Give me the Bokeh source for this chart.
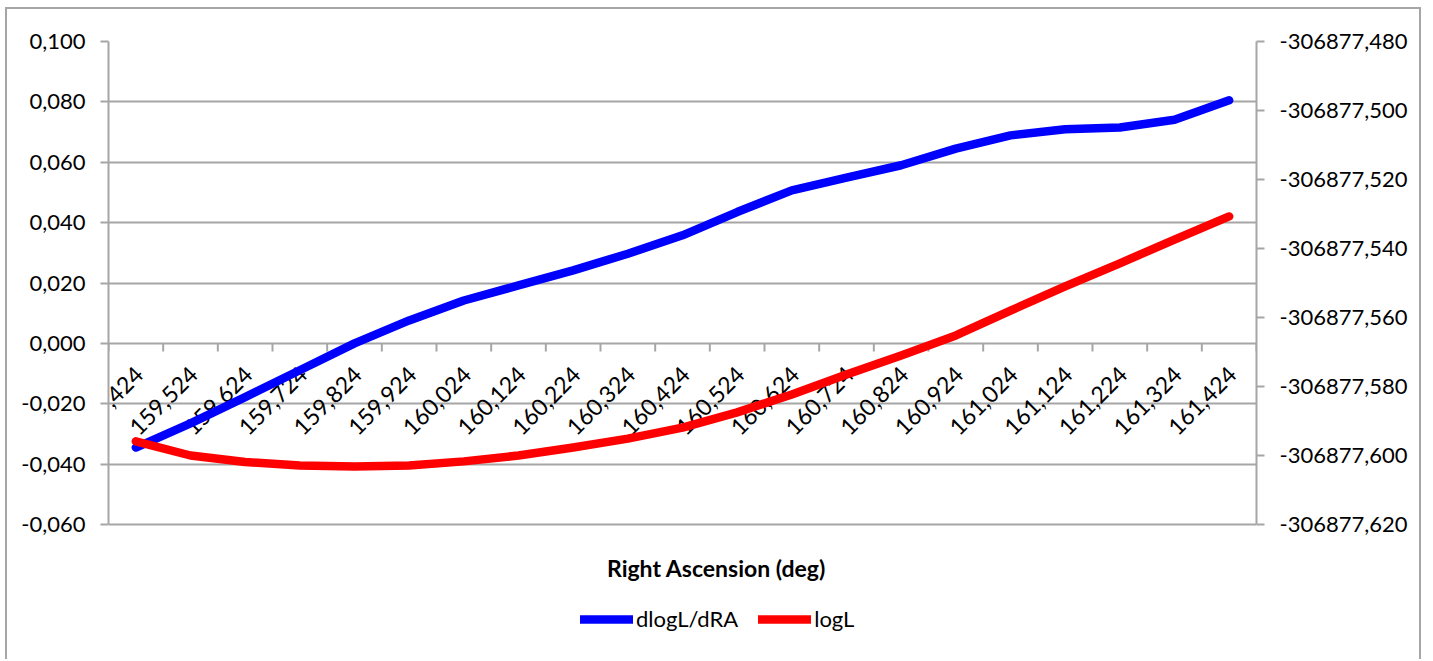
import math
from bokeh.plotting import figure
from bokeh.models import (Range1d, FactorRange, LinearAxis, FixedTicker, CustomJSTickFormatter,
                          ColumnDataSource, LabelSet, Label, Legend, LegendItem)
from bokeh.core.properties import value
from bokeh.transform import dodge
from bokeh.embed import file_html
from bokeh.resources import INLINE

# ---------------- data ----------------
ra_labels = ["159,424", "159,524", "159,624", "159,724", "159,824", "159,924", "160,024",
             "160,124", "160,224", "160,324", "160,424", "160,524", "160,624", "160,724",
             "160,824", "160,924", "161,024", "161,124", "161,224", "161,324", "161,424"]

dlogl_dra = [-0.0345, -0.0265, -0.0178, -0.0089, 0.0000, 0.0076, 0.0142, 0.0192, 0.0242,
             0.0297, 0.0358, 0.0435, 0.0507, 0.0549, 0.0590, 0.0645, 0.0689, 0.0709,
             0.0715, 0.0741, 0.0805]

logl = [-306877.5959, -306877.6000, -306877.6019, -306877.6029, -306877.6032, -306877.6029,
        -306877.6017, -306877.6000, -306877.5977, -306877.5951, -306877.5919, -306877.5875,
        -306877.5823, -306877.5765, -306877.5710, -306877.5652, -306877.5580, -306877.5510,
        -306877.5443, -306877.5374, -306877.5307]

left_ticks = [-0.06, -0.04, -0.02, 0.0, 0.02, 0.04, 0.06, 0.08, 0.10]
right_ticks = [-306877.62, -306877.60, -306877.58, -306877.56, -306877.54, -306877.52,
               -306877.50, -306877.48]

series_names = ["dlogL/dRA", "logL"]
x_title = "Right Ascension (deg)"

# ---------------- layout / styles ----------------
FONT = "Lato"
GRAY = "#a6a6a6"
OFF_X, OFF_Y = 7, 9                 # canvas origin in the page (margin + css border)
CW, CH = 1416, 652                  # canvas size
PL, PR, PT, PB = 108, 1256, 41, 524  # value-area edges in page pixels
frame_h = OFF_Y + CH - PT            # frame runs down to the canvas bottom
ext = (frame_h - (PB - PT)) / (PB - PT)   # extra range below the value axes (fraction)

l_lo, l_hi = left_ticks[0], left_ticks[-1]
r_lo, r_hi = right_ticks[0], right_ticks[-1]

p = figure(width=CW, height=CH, output_backend="svg", toolbar_location=None,
           x_range=FactorRange(*ra_labels, range_padding=0),
           y_range=Range1d(l_lo - ext * (l_hi - l_lo), l_hi),
           x_axis_location=None,
           min_border_left=PL - OFF_X, min_border_right=CW - (PR - OFF_X),
           min_border_top=PT - OFF_Y, min_border_bottom=0)
p.styles = {"margin-left": "5px", "margin-top": "7px",
            "border-left": f"2px solid {GRAY}", "border-top": f"2px solid {GRAY}",
            "border-right": f"2px solid {GRAY}"}
p.outline_line_color = None
p.background_fill_color = "white"
p.border_fill_color = "white"
p.extra_y_ranges = {"right": Range1d(r_lo - ext * (r_hi - r_lo), r_hi)}

fmt = CustomJSTickFormatter(code="return tick.toFixed(3).replace('.', ',');")

def style_axis(ax, ticks):
    ax.ticker = FixedTicker(ticks=ticks)
    ax.bounds = (ticks[0], ticks[-1])
    ax.formatter = fmt
    ax.axis_line_color = GRAY
    ax.axis_line_width = 2
    ax.major_tick_line_color = GRAY
    ax.major_tick_line_width = 2
    ax.major_tick_out = 8
    ax.major_tick_in = 0
    ax.minor_tick_line_color = None
    ax.major_label_text_font = FONT
    ax.major_label_text_font_size = "22px"
    ax.major_label_text_color = "black"
    ax.major_label_standoff = 15

style_axis(p.yaxis[0], left_ticks)
raxis = LinearAxis(y_range_name="right")
style_axis(raxis, right_ticks)
p.add_layout(raxis, "right")

p.ygrid.ticker = FixedTicker(ticks=left_ticks)
p.ygrid.grid_line_color = GRAY
p.ygrid.grid_line_width = 2
p.xgrid.grid_line_color = None

# category axis drawn at y = 0 (where the value axis crosses)
tick_len = 0.0027
tick_src = ColumnDataSource(dict(cat=ra_labels, y0=[0.0] * len(ra_labels),
                                 y1=[-tick_len] * len(ra_labels)))
p.segment(x0=dodge("cat", -0.5, range=p.x_range), x1=dodge("cat", -0.5, range=p.x_range),
          y0="y0", y1="y1", source=tick_src, line_color=GRAY, line_width=2)
last_src = ColumnDataSource(dict(cat=ra_labels[-1:], y0=[0.0], y1=[-tick_len]))
p.segment(x0=dodge("cat", 0.5, range=p.x_range), x1=dodge("cat", 0.5, range=p.x_range),
          y0="y0", y1="y1", source=last_src, line_color=GRAY, line_width=2)

lab_src = ColumnDataSource(dict(x=ra_labels, y=[0.0] * len(ra_labels), t=ra_labels))
labels = LabelSet(x="x", y="y", text="t", source=lab_src, angle=math.pi / 4,
                  text_align="right", text_baseline="middle", x_offset=3, y_offset=-27,
                  text_font=value(FONT), text_font_size=value("23px"), text_color="black",
                  level="underlay")
p.add_layout(labels)

# series
src = ColumnDataSource(dict(x=ra_labels, d=dlogl_dra, l=logl))
r_blue = p.line("x", "d", source=src, line_color="#0000ff", line_width=8.5,
                line_cap="round", line_join="round")
r_red = p.line("x", "l", source=src, y_range_name="right", line_color="#ff0000",
               line_width=8.5, line_cap="round", line_join="round")

# axis title (inside the extended frame, below the value area)
frame_bottom_page = OFF_Y + CH
p.add_layout(Label(x=716 - PL, y=frame_bottom_page - 567, x_units="screen", y_units="screen",
                   text=x_title, text_align="center", text_baseline="middle",
                   text_font=FONT, text_font_style="bold", text_font_size="23px",
                   text_color="black"))

legend = Legend(items=[LegendItem(label=series_names[0], renderers=[r_blue]),
                       LegendItem(label=series_names[1], renderers=[r_red])],
                location=(472, frame_bottom_page - 632), orientation="horizontal",
                glyph_width=53, glyph_height=22, label_standoff=3, spacing=20, padding=0,
                margin=0, border_line_color=None, background_fill_alpha=0,
                label_text_font=FONT, label_text_font_size="22px", label_text_color="black")
p.add_layout(legend)

open("out.html", "w").write(file_html(p, INLINE))
